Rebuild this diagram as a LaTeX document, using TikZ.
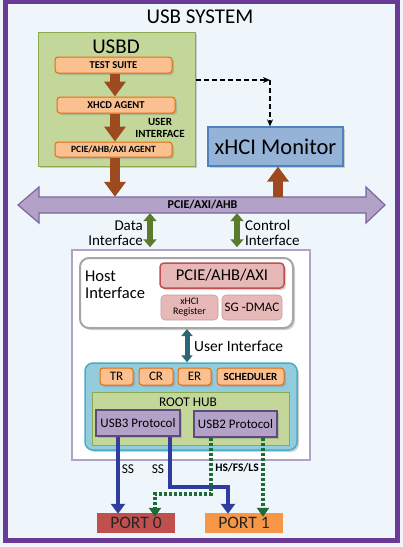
\documentclass[tikz,border=0pt]{standalone}
\usepackage{fontspec}
\setmainfont{Carlito}
\usetikzlibrary{arrows.meta,shadows,positioning}
\definecolor{bgc}{HTML}{EEF5FB}
\definecolor{framec}{HTML}{6B3A96}
\definecolor{greenf}{HTML}{C4D79B}
\definecolor{greend}{HTML}{8AAA50}
\definecolor{orangef}{HTML}{FAC090}
\definecolor{oranged}{HTML}{E46C0A}
\definecolor{brownc}{HTML}{9C4A1E}
\definecolor{monf}{HTML}{95B3D7}
\definecolor{mond}{HTML}{4F81BD}
\definecolor{busf}{HTML}{B3A2C7}
\definecolor{busd}{HTML}{8064A2}
\definecolor{olivec}{HTML}{5A7A2E}
\definecolor{hostd}{HTML}{B3A2C7}
\definecolor{redf}{HTML}{E6B9B8}
\definecolor{redd}{HTML}{C0504D}
\definecolor{tealc}{HTML}{2A6675}
\definecolor{schedf}{HTML}{93CDDD}
\definecolor{schedd}{HTML}{4BACC6}
\definecolor{protf}{HTML}{B3A2C7}
\definecolor{protd}{HTML}{604A7B}
\definecolor{bluec}{HTML}{2F3E9E}
\definecolor{dotc}{HTML}{1F6B35}
\definecolor{port0c}{HTML}{C0504D}
\definecolor{port1c}{HTML}{F79646}
\begin{document}
\begin{tikzpicture}[x=1pt,y=-1pt,
  box/.style={inner sep=0pt, align=center},
  sh/.style={drop shadow={opacity=0.35,shadow xshift=2pt,shadow yshift=-2pt}},
  orangebox/.style={box, fill=orangef, draw=oranged, line width=1pt, rounded corners=3pt, font=\bfseries\fontsize{10.5}{11}\selectfont, sh},
  brownarrow/.style={draw=brownc, line width=10pt, -{Triangle[length=15pt,width=21pt]}},
  olivearrow/.style={draw=olivec, line width=6pt, {Triangle[length=8pt,width=13pt]}-{Triangle[length=8pt,width=13pt]}},
  bluearrow/.style={draw=bluec, line width=3.5pt, -{Triangle[length=10pt,width=14pt]}},
  dotarrow/.style={draw=dotc, line width=3.5pt, dash pattern=on 3pt off 2pt, -{Triangle[length=9pt,width=12pt]}},
  lbl/.style={inner sep=0pt, align=center}
]
\useasboundingbox (0,0) rectangle (403,547);
\fill[bgc] (0,0) rectangle (403,547);
\draw[framec, line width=5pt] (5.5,1) rectangle (397.5,540);
\node[lbl, font=\fontsize{21}{22}\selectfont] (title) at (200,17) {USB SYSTEM};

% USBD
\node[box, fill=greenf, draw=greend, line width=1pt, minimum width=157pt, minimum height=134pt, sh] (usbd) at (116.5,99) {};
\node[lbl, font=\fontsize{21}{22}\selectfont] (usbdt) at (116,47) {USBD};
\node[orangebox, minimum width=117pt, minimum height=16pt] (test) at (113.5,65) {TEST SUITE};
\node[orangebox, minimum width=118pt, minimum height=16pt] (xhcd) at (116,105) {XHCD AGENT};
\node[orangebox, font=\bfseries\fontsize{9.5}{10}\selectfont, minimum width=117pt, minimum height=15pt] (agent) at (113.5,149.5) {PCIE/AHB/AXI AGENT};
\node[lbl, font=\bfseries\fontsize{11}{11.5}\selectfont] (uit) at (160,128) {USER\\INTERFACE};

% Monitor
\node[box, fill=monf, draw=mond, line width=1.2pt, minimum width=135pt, minimum height=39pt, font=\fontsize{22.5}{23}\selectfont, sh] (mon) at (275.5,146.5) {xHCI Monitor};

% bus
\draw[fill=busf, draw=busd, line width=1.2pt] (18,205) -- (39,187) -- (39,197) -- (366,197) -- (366,187) -- (385,205) -- (366,223) -- (366,213) -- (39,213) -- (39,223) -- cycle;
\node[lbl, minimum width=327pt, minimum height=16pt, font=\bfseries\fontsize{12}{12}\selectfont] (bus) at (202.5,205) {PCIE/AXI/AHB};

% brown arrows
\draw[brownarrow] (test.south -| 115,0) -- (xhcd.north -| 115,0);
\draw[brownarrow] (xhcd.south -| 115,0) -- (agent.north -| 115,0);
\draw[brownarrow] (agent.south -| 115,0) -- (bus.north -| 115,0);
\draw[brownarrow] (bus.north -| 278,0) -- (mon.south -| 278,0);

% dashed
\coordinate (dc) at (270,80);
\draw[line width=1.1pt, dash pattern=on 5pt off 3pt, -{Stealth[length=7pt,width=6pt]}] (usbd.east |- dc) -- (dc);
\draw[line width=1.1pt, dash pattern=on 5pt off 3pt, -{Stealth[length=7pt,width=6pt]}] (dc) -- (mon.north -| dc);

% host block
\node[box, fill=white, draw=hostd, line width=1.5pt, minimum width=238pt, minimum height=210pt] (host) at (191,355) {};
\draw[olivearrow] (bus.south -| 150,0) -- ([yshift=2pt]host.north -| 150,0);
\draw[olivearrow] (bus.south -| 237,0) -- ([yshift=2pt]host.north -| 237,0);
\node[lbl, anchor=east, align=right, font=\fontsize{15}{15}\selectfont] (dit) at (143,233) {Data\\Interface};
\node[lbl, anchor=west, align=left, font=\fontsize{15}{15}\selectfont] (cit) at (245,233) {Control\\Interface};

\node[box, fill=white, draw=gray!70, line width=2pt, rounded corners=9pt, minimum width=213pt, minimum height=70pt, sh] (hif) at (186.5,293) {};
\node[lbl, anchor=west, align=left, font=\fontsize{16.5}{17}\selectfont] (hift) at (85,285) {Host\\Interface};
\node[box, fill=redf, draw=redd, line width=1.5pt, rounded corners=4pt, minimum width=124pt, minimum height=25pt, font=\fontsize{16.5}{17}\selectfont, sh] (pcie) at (222,275.5) {PCIE/AHB/AXI};
\node[box, fill=redf, draw=redf!85!black, line width=0.6pt, rounded corners=4pt, minimum width=57pt, minimum height=25pt, font=\fontsize{10}{10}\selectfont] (xreg) at (189.5,307.5) {xHCI\\Register};
\node[box, fill=redf, draw=redf!85!black, line width=0.6pt, rounded corners=4pt, minimum width=60pt, minimum height=25pt, font=\fontsize{13}{14}\selectfont] (dmac) at (252,307.5) {SG -DMAC};

% sched block
\node[box, fill=schedf, draw=schedd, line width=1.5pt, rounded corners=8pt, minimum width=212pt, minimum height=87pt, sh] (sched) at (191,406.5) {};
\draw[draw=tealc, line width=5pt, {Triangle[length=7pt,width=11pt]}-{Triangle[length=7pt,width=11pt]}] (hif.south -| 187,0) -- (sched.north -| 187,0);
\node[lbl, anchor=west, font=\fontsize{15.5}{16}\selectfont] (uit2) at (194,346) {User Interface};

\node[orangebox, font=\fontsize{13}{14}\selectfont, minimum width=33pt, minimum height=17pt] (tr) at (116.5,376.5) {TR};
\node[orangebox, font=\fontsize{13}{14}\selectfont, minimum width=34pt, minimum height=17pt] (cr) at (156,376.5) {CR};
\node[orangebox, font=\fontsize{13}{14}\selectfont, minimum width=33pt, minimum height=17pt] (er) at (194.5,376.5) {ER};
\node[orangebox, font=\bfseries\fontsize{11}{12}\selectfont, minimum width=67pt, minimum height=17pt] (sch) at (250.5,376.5) {SCHEDULER};

\node[box, fill=greenf, draw=greend, line width=1pt, minimum width=197pt, minimum height=53pt] (root) at (190.5,418.5) {};
\node[lbl, font=\fontsize{13.3}{14}\selectfont] (roott) at (188,402) {ROOT HUB};
\node[box, fill=protf, draw=protd, line width=1.5pt, minimum width=84pt, minimum height=26pt, font=\fontsize{13}{14}\selectfont, sh] (usb3) at (138,423) {USB3 Protocol};
\node[box, fill=protf, draw=protd, line width=1.5pt, minimum width=83pt, minimum height=26pt, font=\fontsize{13}{14}\selectfont, sh] (usb2) at (235.5,424) {USB2 Protocol};

% ports
\node[box, fill=port0c, minimum width=78pt, minimum height=20pt, font=\fontsize{17.5}{18}\selectfont, text=black!85] (p0) at (136,523) {PORT 0};
\node[box, fill=port1c, minimum width=78pt, minimum height=20pt, font=\fontsize{17.5}{18}\selectfont, text=black!85] (p1) at (244,523) {PORT 1};

% connections
\draw[bluearrow] (usb3.south -| 118,0) -- ([yshift=-1pt]p0.north -| 118,0);
\coordinate (b1) at (170,487);
\coordinate (b2) at (228,487);
\draw[bluearrow] (usb3.south -| b1) -- (b1) -- (b2) -- ([yshift=-1pt]p1.north -| b2);
\coordinate (g1) at (211,494);
\coordinate (g2) at (155,494);
\draw[dotarrow] (usb2.south -| g1) -- (g1) -- (g2) -- ([yshift=-4pt]p0.north -| g2);
\draw[dotarrow] (usb2.south -| 263,0) -- ([yshift=-4pt]p1.north -| 263,0);

\node[lbl, font=\fontsize{13.5}{14}\selectfont] (ss1) at (128,469) {SS};
\node[lbl, font=\fontsize{13.5}{14}\selectfont] (ss2) at (158,469) {SS};
\node[lbl, font=\bfseries\fontsize{11.5}{12}\selectfont] (hs) at (237,468) {HS/FS/LS};
\end{tikzpicture}
\end{document}
